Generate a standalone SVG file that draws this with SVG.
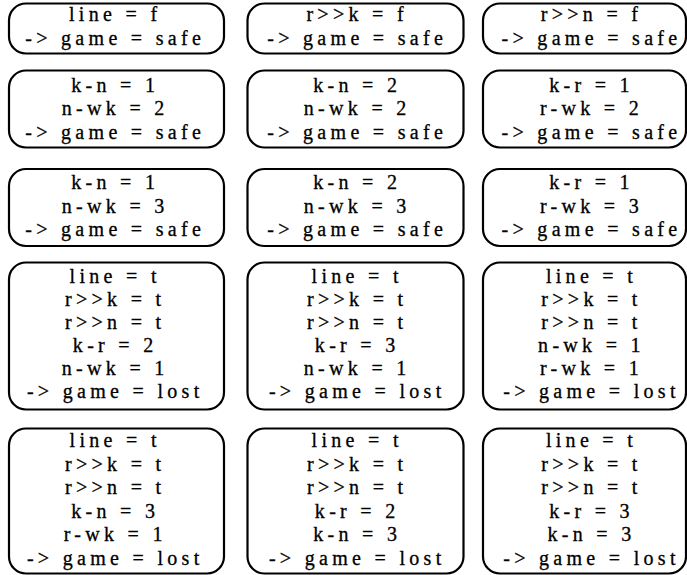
<svg xmlns="http://www.w3.org/2000/svg" width="687" height="575" viewBox="0 0 687 575">
<style>
rect.node{fill:#fff;stroke:#000;stroke-width:2.2}
text{font-family:"Liberation Serif","Times New Roman",serif;font-size:20px;letter-spacing:4.3px;fill:#000;stroke:#000;stroke-width:0.3;text-anchor:middle}
</style>
<rect width="687" height="575" fill="#fff"/>
<g id="connectors"/>
<!-- Row 1 -->
<g id="r1c1"><rect class="node" x="9" y="3.5" width="215" height="50" rx="17"/>
<text><tspan x="115.2" y="21">line = f</tspan><tspan x="115.2" y="45">-&gt; game = safe</tspan></text></g>
<g id="r1c2"><rect class="node" x="247.5" y="3.5" width="216" height="50" rx="17"/>
<text><tspan x="357.2" y="21">r&gt;&gt;k = f</tspan><tspan x="357.2" y="45">-&gt; game = safe</tspan></text></g>
<g id="r1c3"><rect class="node" x="483" y="3.5" width="203" height="50" rx="17"/>
<text><tspan x="591.5" y="21">r&gt;&gt;n = f</tspan><tspan x="591.5" y="45">-&gt; game = safe</tspan></text></g>
<!-- Row 2 -->
<g id="r2c1"><rect class="node" x="9" y="70.5" width="215" height="77" rx="17"/>
<text><tspan x="115.2" y="92">k-n = 1</tspan><tspan x="115.2" y="115">n-wk = 2</tspan><tspan x="115.2" y="138.5">-&gt; game = safe</tspan></text></g>
<g id="r2c2"><rect class="node" x="247.5" y="70.5" width="216" height="77" rx="17"/>
<text><tspan x="357.2" y="92">k-n = 2</tspan><tspan x="357.2" y="115">n-wk = 2</tspan><tspan x="357.2" y="138.5">-&gt; game = safe</tspan></text></g>
<g id="r2c3"><rect class="node" x="483" y="70.5" width="203" height="77" rx="17"/>
<text><tspan x="591.5" y="92">k-r = 1</tspan><tspan x="591.5" y="115">r-wk = 2</tspan><tspan x="591.5" y="138.5">-&gt; game = safe</tspan></text></g>
<!-- Row 3 -->
<g id="r3c1"><rect class="node" x="9" y="169" width="215" height="77" rx="17"/>
<text><tspan x="115.2" y="189">k-n = 1</tspan><tspan x="115.2" y="212.5">n-wk = 3</tspan><tspan x="115.2" y="236">-&gt; game = safe</tspan></text></g>
<g id="r3c2"><rect class="node" x="247.5" y="169" width="216" height="77" rx="17"/>
<text><tspan x="357.2" y="189">k-n = 2</tspan><tspan x="357.2" y="212.5">n-wk = 3</tspan><tspan x="357.2" y="236">-&gt; game = safe</tspan></text></g>
<g id="r3c3"><rect class="node" x="483" y="169" width="203" height="77" rx="17"/>
<text><tspan x="591.5" y="189">k-r = 1</tspan><tspan x="591.5" y="212.5">r-wk = 3</tspan><tspan x="591.5" y="236">-&gt; game = safe</tspan></text></g>
<!-- Row 4 -->
<g id="r4c1"><rect class="node" x="9" y="262.5" width="215" height="147" rx="17"/>
<text><tspan x="115.2" y="283">line = t</tspan><tspan x="115.2" y="306">r&gt;&gt;k = t</tspan><tspan x="115.2" y="329">r&gt;&gt;n = t</tspan><tspan x="115.2" y="351.5">k-r = 2</tspan><tspan x="115.2" y="374.5">n-wk = 1</tspan><tspan x="115.2" y="397.5">-&gt; game = lost</tspan></text></g>
<g id="r4c2"><rect class="node" x="247.5" y="262.5" width="216" height="147" rx="17"/>
<text><tspan x="357.2" y="283">line = t</tspan><tspan x="357.2" y="306">r&gt;&gt;k = t</tspan><tspan x="357.2" y="329">r&gt;&gt;n = t</tspan><tspan x="357.2" y="351.5">k-r = 3</tspan><tspan x="357.2" y="374.5">n-wk = 1</tspan><tspan x="357.2" y="397.5">-&gt; game = lost</tspan></text></g>
<g id="r4c3"><rect class="node" x="483" y="262.5" width="203" height="147" rx="17"/>
<text><tspan x="591.5" y="283">line = t</tspan><tspan x="591.5" y="306">r&gt;&gt;k = t</tspan><tspan x="591.5" y="329">r&gt;&gt;n = t</tspan><tspan x="591.5" y="351.5">n-wk = 1</tspan><tspan x="591.5" y="374.5">r-wk = 1</tspan><tspan x="591.5" y="397.5">-&gt; game = lost</tspan></text></g>
<!-- Row 5 -->
<g id="r5c1"><rect class="node" x="9" y="428.5" width="215" height="145" rx="17"/>
<text><tspan x="115.2" y="447">line = t</tspan><tspan x="115.2" y="470.6">r&gt;&gt;k = t</tspan><tspan x="115.2" y="494.2">r&gt;&gt;n = t</tspan><tspan x="115.2" y="517.8">k-n = 3</tspan><tspan x="115.2" y="541.4">r-wk = 1</tspan><tspan x="115.2" y="565">-&gt; game = lost</tspan></text></g>
<g id="r5c2"><rect class="node" x="247.5" y="428.5" width="216" height="145" rx="17"/>
<text><tspan x="357.2" y="447">line = t</tspan><tspan x="357.2" y="470.6">r&gt;&gt;k = t</tspan><tspan x="357.2" y="494.2">r&gt;&gt;n = t</tspan><tspan x="357.2" y="517.8">k-r = 2</tspan><tspan x="357.2" y="541.4">k-n = 3</tspan><tspan x="357.2" y="565">-&gt; game = lost</tspan></text></g>
<g id="r5c3"><rect class="node" x="483" y="428.5" width="203" height="145" rx="17"/>
<text><tspan x="591.5" y="447">line = t</tspan><tspan x="591.5" y="470.6">r&gt;&gt;k = t</tspan><tspan x="591.5" y="494.2">r&gt;&gt;n = t</tspan><tspan x="591.5" y="517.8">k-r = 3</tspan><tspan x="591.5" y="541.4">k-n = 3</tspan><tspan x="591.5" y="565">-&gt; game = lost</tspan></text></g>
</svg>
